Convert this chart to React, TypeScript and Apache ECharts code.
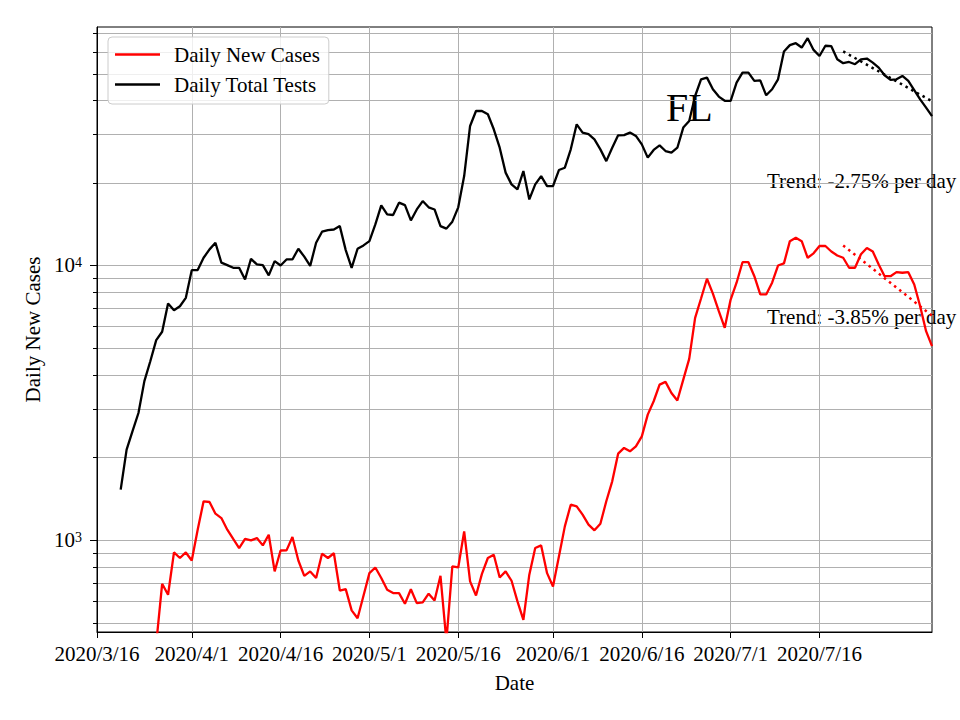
import React, { useEffect, useRef } from 'react';
import * as echarts from 'echarts';

const FONT = "'Liberation Serif', 'Times New Roman', serif";
const FS = 21;

// Day categories: 2020/3/16 .. 2020/8/4
const START_DATE = Date.UTC(2020, 2, 16);
const NUM_DAYS = 142;
const dates: string[] = [];
for (let i = 0; i < NUM_DAYS; i++) {
  const d = new Date(START_DATE + i * 86400000);
  dates.push(`${d.getUTCFullYear()}/${d.getUTCMonth() + 1}/${d.getUTCDate()}`);
}

const tickDates = [
  '2020/3/16', '2020/4/1', '2020/4/16', '2020/5/1', '2020/5/16',
  '2020/6/1', '2020/6/16', '2020/7/1', '2020/7/16',
];

const majorYTicks = [1000, 10000];
const minorYTicks = [
  500, 600, 700, 800, 900,
  2000, 3000, 4000, 5000, 6000, 7000, 8000, 9000,
  20000, 30000, 40000, 50000, 60000, 70000,
];

const dailyNewCases: (number | null)[] = [
  null, null, null, null, null, null, null, null, null, null,
  420, 695, 634, 904, 863, 904, 845, 1094, 1388, 1380,
  1251, 1206, 1094, 1012, 938, 1012, 1000, 1020, 959, 1049,
  771, 919, 920, 1029, 845, 743, 771, 730, 894, 863,
  898, 657, 665, 556, 521, 629, 760, 797, 730, 661,
  643, 643, 588, 664, 591, 595, 640, 604, 743, 430,
  804, 797, 1079, 709, 630, 755, 863, 887, 733, 771,
  713, 600, 514, 750, 938, 959, 760, 680, 874, 1125,
  1349, 1330, 1241, 1141, 1088, 1150, 1388, 1641, 2069, 2171,
  2110, 2200, 2393, 2870, 3211, 3690, 3776, 3443, 3230, 3851,
  4583, 6463, 7600, 8967, 7920, 6830, 5943, 7530, 8673, 10300,
  10300, 9160, 7862, 7862, 8673, 10020, 10200, 12290, 12650, 12290,
  10690, 11100, 11800, 11800, 11270, 10900, 10690, 9833, 9833, 11010,
  11600, 11270, 10108, 9160, 9160, 9478, 9430, 9478, 8550, 7123,
  5778, 5100,
];

const dailyTotalTests: (number | null)[] = [
  null, null, null, null, 1530, 2140, 2500, 2910, 3800, 4490,
  5360, 5750, 7290, 6890, 7120, 7640, 9640, 9640, 10690, 11470,
  12130, 10260, 10050, 9830, 9830, 8910, 10600, 10110, 10050, 9220,
  10390, 10020, 10540, 10540, 11530, 10790, 9990, 12130, 13300, 13480,
  13550, 13940, 11400, 9830, 11530, 11860, 12290, 14140, 16590, 15380,
  15300, 16970, 16630, 14620, 16030, 17200, 16320, 16030, 13940, 13650,
  14470, 16320, 21210, 32280, 36600, 36600, 35600, 31390, 26900, 21830,
  19780, 18970, 22120, 17440, 19780, 21210, 19500, 19500, 22310, 22750,
  26530, 32730, 30530, 30130, 28860, 26530, 24040, 26900, 29850, 29900,
  30530, 29690, 27660, 24750, 26400, 27440, 26160, 25820, 26900, 31850,
  33660, 41500, 47730, 48400, 43900, 41300, 39860, 39860, 46430, 50500,
  50500, 47100, 47300, 41740, 43900, 47730, 60260, 63560, 64600, 62300,
  67370, 61060, 58050, 63230, 63000, 56460, 54610, 55200, 54160, 56460,
  56800, 54900, 52650, 49370, 47500, 47730, 49090, 47100, 43630, 40360,
  37650, 35070,
];

const trendTests: [string, number][] = [['2020/7/20', 60300], ['2020/8/4', 39700]];
const trendCases: [string, number][] = [['2020/7/20', 11860], ['2020/8/4', 6580]];

const tickSet = new Set(tickDates);
const isTick = (_i: number, v: string) => tickSet.has(v);

export default function App() {
  const ref = useRef<HTMLDivElement>(null);
  useEffect(() => {
    if (!ref.current) return;
    const chart = echarts.init(ref.current, null, { renderer: 'svg' });
    const gridColor = '#b0b0b0';
    chart.setOption({
      animation: false,
      backgroundColor: '#ffffff',
      textStyle: { fontFamily: FONT },
      grid: {
        left: 97, right: 28, top: 27, bottom: 88,
        show: true, borderColor: '#000', borderWidth: 1, backgroundColor: 'transparent',
      },
      legend: {
        data: ['Daily New Cases', 'Daily Total Tests'],
        orient: 'vertical',
        left: 108, top: 37,
        icon: 'rect',
        itemWidth: 45, itemHeight: 2.4, itemGap: 9,
        padding: [7, 9, 9, 7],
        backgroundColor: 'rgba(255,255,255,0.8)',
        borderColor: '#cccccc', borderWidth: 1, borderRadius: 4,
        textStyle: { fontFamily: FONT, fontSize: FS, color: '#000', lineHeight: 21, padding: [0, 0, 0, 9] },
      },
      xAxis: {
        type: 'category',
        data: dates,
        boundaryGap: false,
        name: 'Date',
        nameLocation: 'middle',
        nameGap: 40,
        nameTextStyle: { fontFamily: FONT, fontSize: FS, color: '#000' },
        axisLine: { lineStyle: { color: '#000', width: 1 } },
        axisTick: { interval: isTick, length: 6, lineStyle: { color: '#000' } },
        axisLabel: { interval: isTick, fontFamily: FONT, fontSize: FS, color: '#000', margin: 11 },
        splitLine: { show: true, interval: isTick, lineStyle: { color: gridColor, width: 1 } },
      },
      yAxis: [
        {
          type: 'log',
          logBase: 10,
          min: 464,
          max: 74000,
          name: 'Daily New Cases',
          nameLocation: 'middle',
          nameGap: 54,
          nameTextStyle: { fontFamily: FONT, fontSize: FS, color: '#000' },
          axisLine: { show: true, lineStyle: { color: '#000', width: 1 } },
          axisTick: { show: true, customValues: majorYTicks, length: 7, lineStyle: { color: '#000' } },
          axisLabel: {
            customValues: majorYTicks,
            margin: 15,
            formatter: (v: number) => `{b|10}{s|${Math.round(Math.log10(v))}}`,
            rich: {
              b: { fontFamily: FONT, fontSize: FS, color: '#000', lineHeight: 20, padding: [6, 0, 0, 0], verticalAlign: 'bottom' },
              s: { fontFamily: FONT, fontSize: 14, color: '#000', lineHeight: 20, verticalAlign: 'top' },
            },
          },
          splitLine: { show: true, lineStyle: { color: gridColor, width: 1 } },
        },
        {
          type: 'log',
          logBase: 10,
          min: 464,
          max: 74000,
          position: 'left',
          axisLine: { show: false },
          axisTick: { show: true, customValues: minorYTicks, length: 4, lineStyle: { color: '#000' } },
          axisLabel: { show: false },
          splitLine: { show: true, lineStyle: { color: gridColor, width: 1 } },
        },
      ],
      series: [
        {
          name: 'Daily New Cases',
          type: 'line',
          data: dailyNewCases,
          symbol: 'none',
          connectNulls: false,
          lineStyle: { color: '#ff0000', width: 2.3 },
          itemStyle: { color: '#ff0000' },
          z: 3,
        },
        {
          name: 'Daily Total Tests',
          type: 'line',
          data: dailyTotalTests,
          symbol: 'none',
          connectNulls: false,
          lineStyle: { color: '#000000', width: 2.3 },
          itemStyle: { color: '#000000' },
          z: 3,
        },
        {
          name: 'Tests Trend',
          type: 'line',
          data: trendTests,
          symbol: 'none',
          silent: true,
          lineStyle: { color: '#000000', width: 2.5, type: [2.5, 4] },
          z: 4,
        },
        {
          name: 'Cases Trend',
          type: 'line',
          data: trendCases,
          symbol: 'none',
          silent: true,
          lineStyle: { color: '#ff0000', width: 2.5, type: [2.5, 4] },
          z: 4,
        },
      ],
      graphic: [
        { type: 'text', x: 666, y: 107, style: { text: 'FL', fontFamily: FONT, fontSize: 40, fill: '#000', align: 'left', verticalAlign: 'middle' } },
        { type: 'text', x: 767, y: 181, style: { text: 'Trend: -2.75% per day', fontFamily: FONT, fontSize: FS, fill: '#000', align: 'left', verticalAlign: 'middle' } },
        { type: 'text', x: 767, y: 317, style: { text: 'Trend: -3.85% per day', fontFamily: FONT, fontSize: FS, fill: '#000', align: 'left', verticalAlign: 'middle' } },
      ],
    });
    return () => chart.dispose();
  }, []);
  return <div ref={ref} style={{ width: 960, height: 720, position: 'fixed', left: 0, top: 0 }} />;
}
